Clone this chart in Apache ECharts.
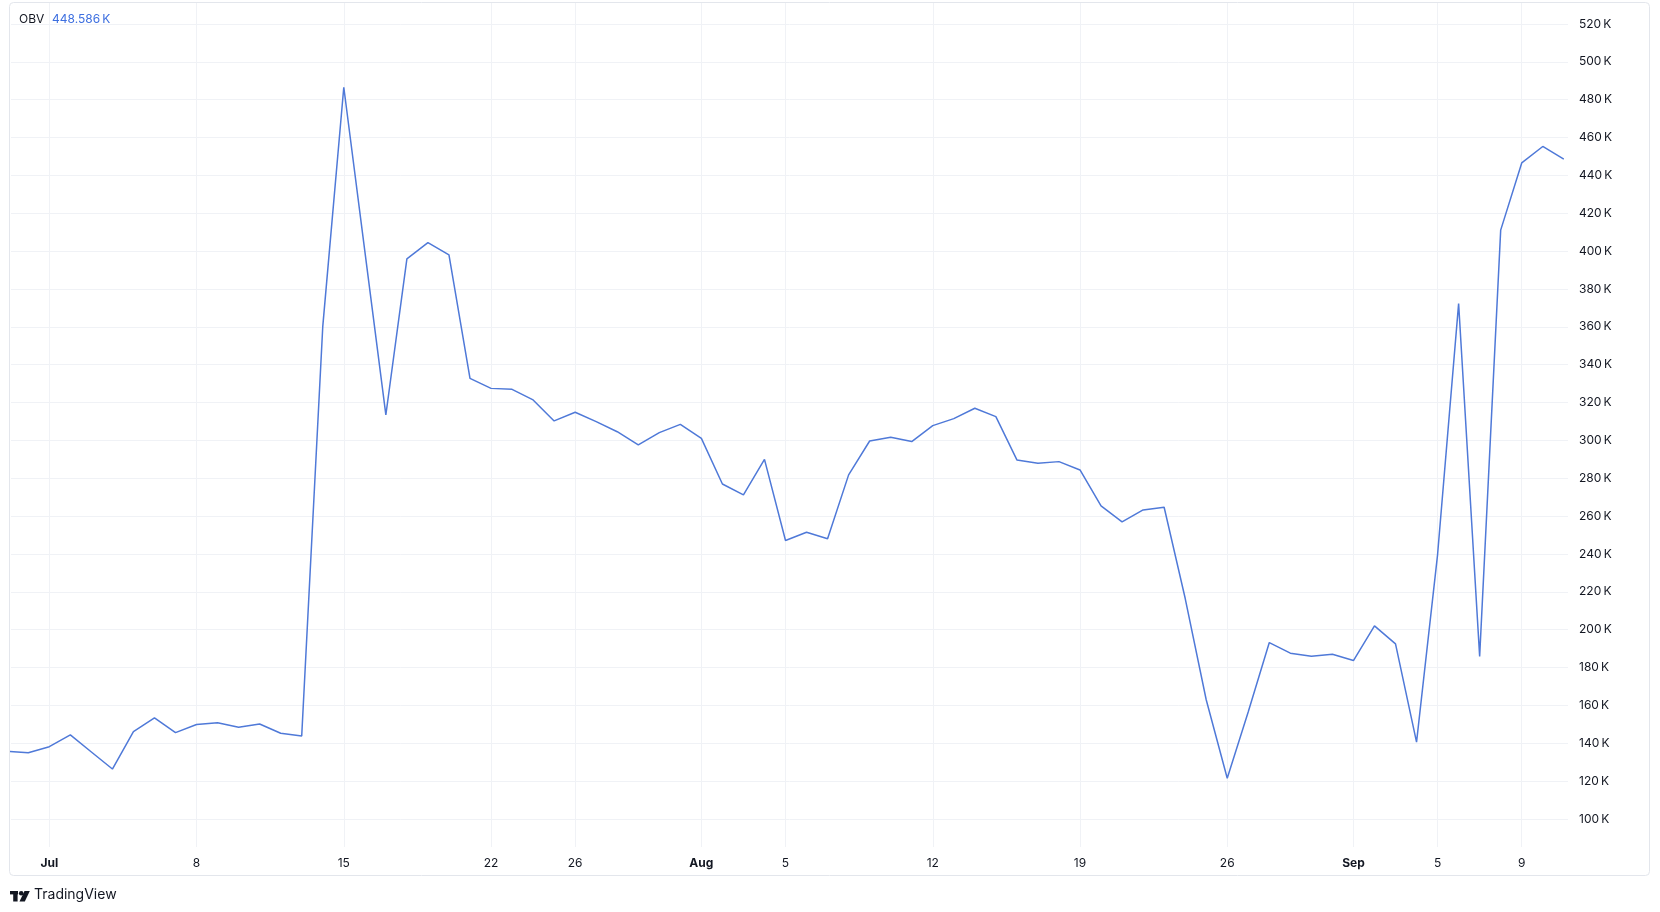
<!DOCTYPE html>
<html>
<head>
<meta charset="utf-8">
<script src="https://cdn.jsdelivr.net/npm/echarts@6/dist/echarts.min.js"></script>
<style>
html,body{margin:0;padding:0;background:#fff;}
#c{width:1660px;height:912px;}
</style>
</head>
<body>
<div id="c"></div>
<script>
// Day offsets from Jul 1 (Jun 29 = -2 ... Sep 11 = 72)
const firstDay = -2;
// OBV values in thousands, one per day from Jun 29 to Sep 11
const obvValues = [
  135.8, 135.0,
  138.2, 144.4, 135.4, 126.4, 146.2, 153.4, 145.6, 149.9, 150.9, 148.5, 150.2, 145.3, 143.9, 360.1,
  486.6, 400.0, 313.5, 395.9, 404.5, 398.0, 332.8, 327.5, 327.0, 321.4, 310.3, 314.9, 309.9, 304.6,
  297.6, 304.1, 308.5,
  301.1, 277.0, 271.2, 290.0, 247.1, 251.5, 248.1, 281.8, 299.7, 301.7, 299.4, 307.8, 311.5, 317.0,
  312.6, 289.7, 288.0, 288.8, 284.4, 265.4, 257.0, 263.3, 264.7, 216.6, 163.0, 121.5, 156.7, 193.2,
  187.6, 186.0, 187.0,
  183.7, 202.0, 192.5, 140.6, 239.7, 372.3, 185.9, 411.1, 446.6, 455.3, 448.586
];
const xTickDays = [0, 7, 14, 21, 25, 31, 35, 42, 49, 56, 62, 66, 70];
const xTickLabels = ['Jul', '8', '15', '22', '26', 'Aug', '5', '12', '19', '26', 'Sep', '5', '9'];
const monthLabels = ['Jul', 'Aug', 'Sep'];
const yTicks = [100, 120, 140, 160, 180, 200, 220, 240, 260, 280, 300, 320, 340, 360, 380, 400, 420, 440, 460, 480, 500, 520];
const legendName = 'OBV';
const legendValue = '448.586\u202FK';

const seriesData = obvValues.map((v, i) => [firstDay + i, v]);

const FONT = 'Inter, "Noto Sans", Roboto, sans-serif';
const TXT = '#131722';
const GRID = '#f0f2f6';
const LINE = '#4f79d8';

const chart = echarts.init(document.getElementById('c'), null, {renderer: 'canvas'});
chart.setOption({
  backgroundColor: '#ffffff',
  animation: false,
  grid: {left: 11, right: 92, top: 3, bottom: 65, containLabel: false},
  xAxis: {
    type: 'value',
    min: -1.821,
    max: 72.20,
    axisLine: {show: false},
    axisTick: {show: false, customValues: xTickDays},
    splitLine: {show: true, lineStyle: {color: GRID, width: 1}},
    axisLabel: {
      customValues: xTickDays,
      margin: 10,
      fontFamily: FONT,
      fontSize: 12,
      color: TXT,
      formatter: function (v) {
        const idx = xTickDays.indexOf(Math.round(v));
        if (idx < 0) return '';
        const t = xTickLabels[idx];
        return monthLabels.indexOf(t) >= 0 ? '{b|' + t + '}' : t;
      },
      rich: {b: {fontWeight: 'bold', fontFamily: FONT, fontSize: 12, color: TXT}}
    }
  },
  yAxis: {
    type: 'value',
    position: 'right',
    min: 85.2,
    max: 531.1,
    axisLine: {show: false},
    axisTick: {show: false, customValues: yTicks},
    splitLine: {show: true, lineStyle: {color: GRID, width: 1}},
    axisLabel: {
      customValues: yTicks,
      margin: 11,
      fontFamily: FONT,
      fontSize: 12,
      color: TXT,
      formatter: function (v) { return Math.round(v) + '\u202FK'; }
    }
  },
  series: [{
    type: 'line',
    data: seriesData,
    showSymbol: false,
    symbol: 'none',
    clip: true,
    lineStyle: {color: LINE, width: 1.5},
    z: 5
  }],
  graphic: [
    {type: 'rect', z: -1, silent: true,
     shape: {x: 9.5, y: 2.5, width: 1640, height: 873, r: 4},
     style: {fill: 'none', stroke: '#e3e6ec', lineWidth: 1}},
    {type: 'text', left: 19, top: 13, z: 10,
     style: {text: legendName, font: '12px ' + FONT, fill: TXT}},
    {type: 'text', left: 52, top: 13, z: 10,
     style: {text: legendValue, font: '12px ' + FONT, fill: '#3d6fe0'}},
    // TradingView logo mark
    {type: 'group', left: 10, top: 891, children: [
      {type: 'rect', shape: {x: 0, y: 0, width: 8, height: 3.4}, style: {fill: TXT}},
      {type: 'rect', shape: {x: 3.2, y: 0, width: 4.4, height: 10.5}, style: {fill: TXT}},
      {type: 'circle', shape: {cx: 11.2, cy: 2.3, r: 2.3}, style: {fill: TXT}},
      {type: 'polygon', shape: {points: [[14.5, 0], [19.8, 0], [14.8, 10.5], [9.5, 10.5]]}, style: {fill: TXT}}
    ]},
    {type: 'text', left: 34, top: 888, z: 10,
     style: {text: 'TradingView', font: '14px ' + FONT, fill: TXT}}
  ]
});
</script>
</body>
</html>
